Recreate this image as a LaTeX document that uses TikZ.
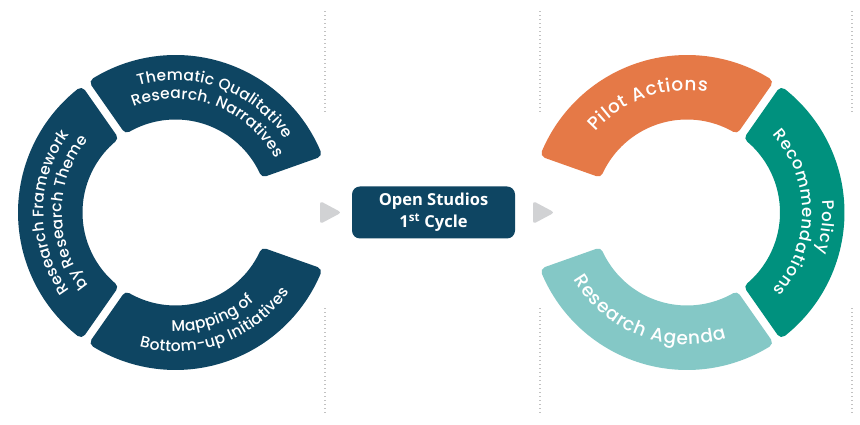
\documentclass[tikz,border=0pt]{standalone}
\usepackage{fontspec}
\usetikzlibrary{calc,decorations.text}
\newfontfamily\ringfont{Poppins}[UprightFont=* Medium]
\newfontfamily\boxfont{Open Sans}
\definecolor{navy}{HTML}{0E4562}
\definecolor{pilot}{HTML}{E57947}
\definecolor{policy}{HTML}{00917E}
\definecolor{agenda}{HTML}{84C8C6}
\definecolor{tipgray}{HTML}{D1D2D4}
\definecolor{dotgray}{HTML}{C2C2C2}
% one piece of a ring: centre, from, to, colour
\newcommand\ringpart[4]{%
  \filldraw[#4,line width=10pt,line join=round]
    ($(#1)+({#2+asin(9/152.5)}:152.5)$) arc[start angle={#2+asin(9/152.5)},end angle={#3-asin(9/152.5)},radius=152.5]
    -- ($(#1)+({#3-asin(9/98)}:98)$) arc[start angle={#3-asin(9/98)},end angle={#2+asin(9/98)},radius=98] -- cycle;}
% a line of text on a ring: centre, radius, from, to, font size, letter gap, text
\newcommand\arctext[7]{%
  \path[decorate,decoration={text effects along path,text={#7},text align=center,
    text effects/.cd,text along path,
    character widths={inner xsep=#6,font=\ringfont\fontsize{#5}{20pt}\selectfont},
    characters={text=white,font=\ringfont\fontsize{#5}{20pt}\selectfont}}]
    ($(#1)+(#3:#2)$) arc[start angle=#3,end angle=#4,radius=#2];}

\begin{document}
\begin{tikzpicture}[x=1pt,y=1pt,
  studio/.style={fill=navy,rounded corners=8pt,minimum width=163pt,minimum height=52pt,
    align=center,text=white,font=\boxfont\bfseries\fontsize{16.5pt}{22pt}\selectfont},
  tip/.style={fill=tipgray,rounded corners=3pt},
  dotline/.style={dotgray,line width=1.3pt,dash pattern=on 1.3pt off 2.7pt}]
  \useasboundingbox[fill=white] (0,0) rectangle (860,425);
  \coordinate (L) at (175.5,212.5);
  \coordinate (R) at (687,212.5);

  \draw[dotline] (325,313) -- (325,415);
  \draw[dotline] (325,12) -- (325,117);
  \draw[dotline] (540,313) -- (540,415);
  \draw[dotline] (540,12) -- (540,117);
  \draw[dotline] (852,313) -- (852,415);
  \draw[dotline] (852,12) -- (852,117);

  % left ring
  \ringpart{L}{19.5}{125}{navy}
  \ringpart{L}{125}{235}{navy}
  \ringpart{L}{235}{340.5}{navy}
  \arctext{L}{132}{150}{-10}{15.5pt}{0.1pt}{Thematic Qualitative}
  \arctext{L}{113.5}{150}{-10}{15.5pt}{0.1pt}{Research. Narratives}
  \arctext{L}{132}{260}{100}{15.5pt}{0.1pt}{Research Framework}
  \arctext{L}{113.5}{260}{100}{15.5pt}{0.1pt}{by Research Theme}
  \arctext{L}{119}{-150}{10}{15.5pt}{0.1pt}{Mapping of}
  \arctext{L}{139}{-150}{10}{15.5pt}{0.1pt}{Bottom-up Initiatives}

  % right ring
  \ringpart{R}{55}{160.5}{pilot}
  \ringpart{R}{-55}{55}{policy}
  \ringpart{R}{199.5}{305}{agenda}
  \arctext{R}{122}{189.5}{29.5}{18.5pt}{0.4pt}{Pilot Actions}
  \arctext{R}{135.5}{74}{-86}{16.5pt}{0.4pt}{Policy}
  \arctext{R}{115.5}{80}{-80}{16.5pt}{0.4pt}{Recommendations}
  \arctext{R}{132}{-191}{-31}{18.5pt}{0.4pt}{Research Agenda}

  \node[studio] (studio) at (433.5,212.5) {Open Studios\\1\textsuperscript{st} Cycle};
  \fill[tip] (320,201) -- (341.5,212.5) -- (320,224) -- cycle;
  \fill[tip] (533,201) -- (554.5,212.5) -- (533,224) -- cycle;
\end{tikzpicture}
\end{document}
